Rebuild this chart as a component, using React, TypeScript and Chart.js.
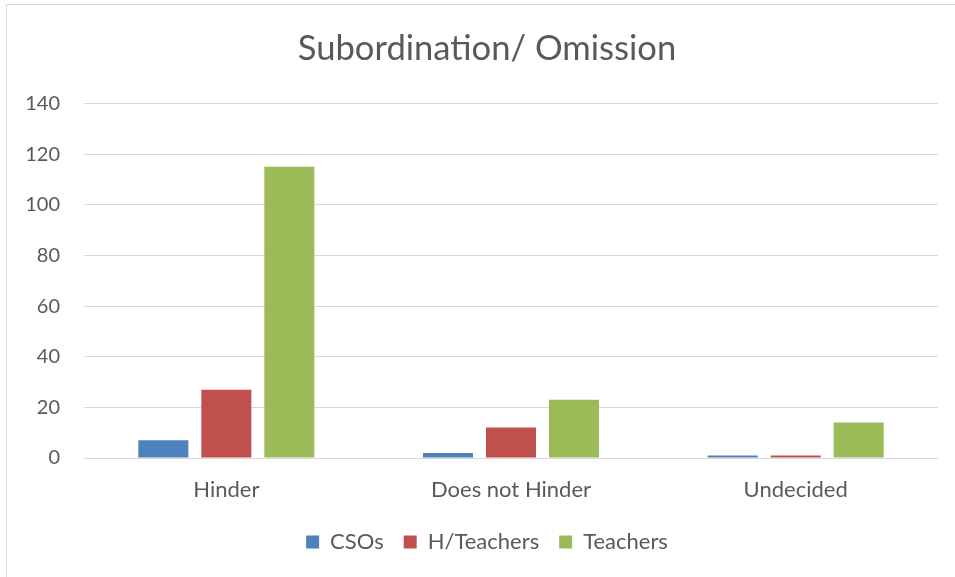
import React, { useEffect, useRef } from "react";
import { Chart, registerables } from "chart.js";

Chart.register(...registerables);

const categories = ["Hinder", "Does not Hinder", "Undecided"];
const csos = [7, 2, 1];
const hTeachers = [27, 12, 1];
const teachers = [115, 23, 14];
const yTicks = [0, 20, 40, 60, 80, 100, 120, 140];

const FONT = "Lato, 'Open Sans', sans-serif";
const TEXT = "#595959";

export default function App() {
  const ref = useRef<HTMLCanvasElement | null>(null);
  useEffect(() => {
    if (!ref.current) return;
    const chart = new Chart(ref.current, {
      type: "bar",
      data: {
        labels: categories,
        datasets: [
          { label: "CSOs", data: csos, backgroundColor: "#4F81BD" },
          { label: "H/Teachers", data: hTeachers, backgroundColor: "#C0504D" },
          { label: "Teachers", data: teachers, backgroundColor: "#9BBB59" },
        ],
      },
      options: {
        animation: false,
        responsive: false,
        maintainAspectRatio: false,
        datasets: { bar: { categoryPercentage: 0.664, barPercentage: 0.794 } },
        layout: { padding: { left: 0, right: 0, top: 0, bottom: 14 } },
        plugins: {
          title: {
            display: true,
            text: "Subordination/ Omission",
            color: TEXT,
            font: { family: FONT, size: 34.6, weight: "normal" },
            padding: { top: 23, bottom: 34 },
          },
          legend: {
            position: "bottom",
            labels: {
              color: TEXT,
              font: { family: FONT, size: 22 },
              boxWidth: 13,
              boxHeight: 13,
              padding: 20,
            },
          },
          tooltip: { enabled: false },
        },
        scales: {
          x: {
            afterFit: (s: any) => {
              s.height = 53;
            },
            grid: { display: false, drawTicks: false },
            border: { display: false },
            ticks: { color: TEXT, font: { family: FONT, size: 22 }, padding: 19 },
          },
          y: {
            position: "left",
            min: 0,
            max: 140,
            afterBuildTicks: (s: any) => {
              s.ticks = yTicks.map((v) => ({ value: v }));
            },
            afterFit: (s: any) => {
              s.width = 77;
            },
            grid: { color: "#d9d9d9", lineWidth: 1, drawTicks: false },
            border: { display: false },
            ticks: { color: TEXT, font: { family: FONT, size: 20 }, padding: 24 },
          },
          spacer: {
            type: "linear",
            position: "right",
            display: true,
            afterFit: (s: any) => {
              s.width = 29;
            },
            grid: { display: false, drawTicks: false },
            border: { display: false },
            ticks: { display: false },
          },
        },
      },
    });
    return () => chart.destroy();
  }, []);
  return (
    <div
      style={{
        position: "fixed",
        left: 6,
        top: 4,
        width: 990,
        height: 600,
        border: "1px solid #d9d9d9",
        background: "#fff",
      }}
    >
      <canvas ref={ref} width={960} height={572} style={{ display: "block", width: 960, height: 572 }} />
    </div>
  );
}
